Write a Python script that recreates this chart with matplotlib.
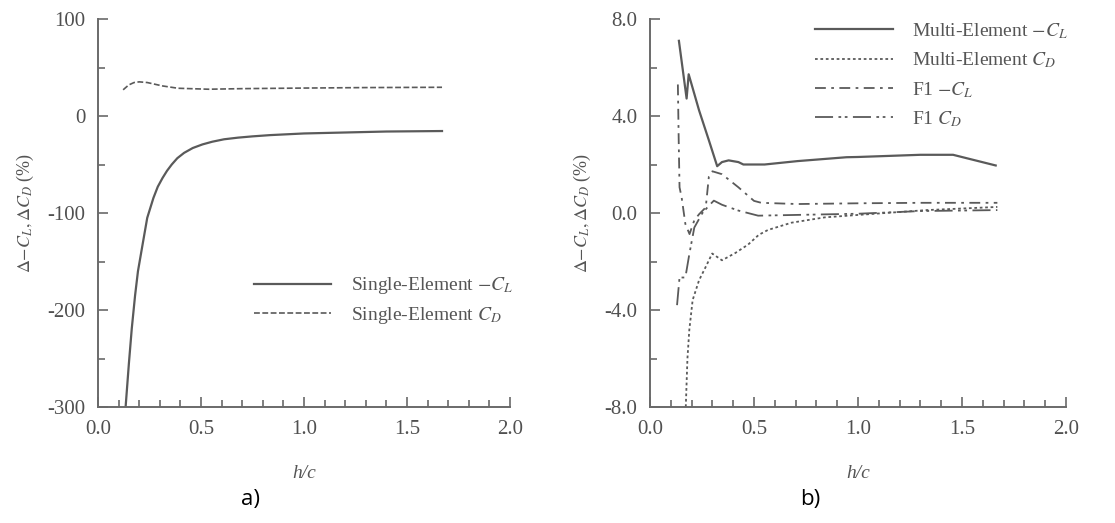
import matplotlib.pyplot as plt
from matplotlib.ticker import MultipleLocator, FormatStrFormatter

plt.rcParams['font.family'] = ['Liberation Serif', 'DejaVu Serif']
plt.rcParams['mathtext.fontset'] = 'stix'
plt.rcParams['axes.unicode_minus'] = False

GRAY = '#5a5a5a'

# panel a) single element
hc_a_cl = [0.134, 0.150, 0.164, 0.180, 0.194, 0.216, 0.239, 0.269, 0.29, 0.313, 0.335, 0.358,
           0.385, 0.418, 0.46, 0.507, 0.555, 0.612, 0.68, 0.75, 0.836, 1.0, 1.2, 1.4, 1.67]
a_cl = [-300, -255, -219, -185, -160, -133, -105, -84.5, -73, -64, -56.5, -50,
        -43.5, -38, -33, -29.3, -26.5, -24, -22.3, -21, -19.7, -18, -17, -16, -15.5]
hc_a_cd = [0.122, 0.149, 0.175, 0.2, 0.239, 0.313, 0.388, 0.537, 0.7, 1.0, 1.3, 1.67]
a_cd = [27, 32, 34.5, 35.2, 34.5, 31, 28.6, 27.6, 28.2, 28.8, 29.3, 29.6]

# panel b) multi element + F1
hc_m_cl = [0.139, 0.176, 0.186, 0.236, 0.283, 0.323, 0.346, 0.378, 0.425, 0.449,
           0.551, 0.709, 0.945, 1.0, 1.30, 1.457, 1.662]
m_cl = [7.10, 4.72, 5.72, 4.23, 3.0, 1.93, 2.10, 2.17, 2.10, 2.0,
        2.0, 2.14, 2.30, 2.31, 2.40, 2.40, 1.96]
hc_m_cd = [0.172, 0.180, 0.189, 0.205, 0.236, 0.268, 0.299, 0.346, 0.41, 0.472,
           0.523, 0.567, 0.68, 0.84, 1.0, 1.33, 1.67]
m_cd = [-8.0, -6.0, -4.82, -3.59, -2.77, -2.22, -1.67, -1.95, -1.65, -1.3,
        -0.9, -0.7, -0.4, -0.18, -0.08, 0.12, 0.25]
hc_f1_cl = [0.134, 0.138, 0.142, 0.152, 0.170, 0.190, 0.213, 0.236, 0.268, 0.283,
            0.300, 0.346, 0.425, 0.5, 0.535, 0.709, 1.0, 1.3, 1.67]
f1_cl = [5.3, 3.0, 1.06, 0.65, -0.45, -0.87, -0.3, -0.05, 0.23, 1.5,
         1.72, 1.6, 1.06, 0.5, 0.42, 0.37, 0.40, 0.42, 0.42]
hc_f1_cd = [0.130, 0.142, 0.170, 0.189, 0.213, 0.252, 0.283, 0.307, 0.346, 0.425,
            0.52, 0.7, 1.0, 1.3, 1.67]
f1_cd = [-3.8, -2.66, -2.66, -1.7, -0.6, 0.0, 0.3, 0.51, 0.34, 0.1,
         -0.11, -0.08, -0.03, 0.08, 0.12]

W, H = 1115, 523
fig = plt.figure(figsize=(W / 100, H / 100), dpi=100)
ax1 = fig.add_axes([98 / W, 1 - 407 / H, 412 / W, 388 / H])
ax2 = fig.add_axes([650 / W, 1 - 407 / H, 416 / W, 388 / H])

ylabel = r'$\Delta\mathrm{-}C_L,\Delta C_D$ (%)'

for ax in (ax1, ax2):
    for s in ('top', 'right'):
        ax.spines[s].set_visible(False)
    for s in ('left', 'bottom'):
        ax.spines[s].set_color('#6a6a6a')
        ax.spines[s].set_linewidth(1.4)
    ax.set_xlim(0, 2.0)
    ax.xaxis.set_major_locator(MultipleLocator(0.5))
    ax.xaxis.set_minor_locator(MultipleLocator(0.1))
    ax.xaxis.set_major_formatter(FormatStrFormatter('%.1f'))
    ax.tick_params(which='both', direction='in', color='#6a6a6a', width=1.2,
                   labelsize=15, labelcolor='#505050')
    ax.tick_params(which='major', length=7, pad=9)
    ax.tick_params(which='minor', length=5)
    ax.set_xlabel('h/c', style='italic', fontsize=14, color='#555555', labelpad=19)
    ax.set_ylabel(ylabel, fontsize=13, color='#555555', labelpad=8)

ax1.plot(hc_a_cl, a_cl, color=GRAY, lw=1.6, label=r'Single-Element $-C_L$')
ax1.plot(hc_a_cd, a_cd, color=GRAY, lw=1.2, ls=(0, (3.5, 1.5)), label=r'Single-Element $C_D$')
ax1.set_ylim(-300, 100)
ax1.yaxis.set_major_locator(MultipleLocator(100))
ax1.yaxis.set_minor_locator(MultipleLocator(50))
ax1.yaxis.set_major_formatter(FormatStrFormatter('%d'))
ax1.legend(loc='upper left', bbox_to_anchor=(0.354, 0.364), frameon=False,
           fontsize=14, handlelength=4.0, handletextpad=1.0, labelspacing=0.45,
           borderpad=0, labelcolor='#555555')

ax2.plot(hc_m_cl, m_cl, color=GRAY, lw=1.6, label=r'Multi-Element $-C_L$')
ax2.plot(hc_m_cd, m_cd, color=GRAY, lw=1.3, ls=(0, (1.5, 1.5)), label=r'Multi-Element $C_D$')
ax2.plot(hc_f1_cl, f1_cl, color=GRAY, lw=1.3, ls=(0, (6, 3, 1.5, 3)), label=r'F1 $-C_L$')
ax2.plot(hc_f1_cd, f1_cd, color=GRAY, lw=1.3, ls=(0, (10, 3, 1.5, 2, 1.5, 3)), label=r'F1 $C_D$')
ax2.set_ylim(-8, 8)
ax2.yaxis.set_major_locator(MultipleLocator(4))
ax2.yaxis.set_minor_locator(MultipleLocator(2))
ax2.yaxis.set_major_formatter(FormatStrFormatter('%.1f'))
ax2.legend(loc='upper left', bbox_to_anchor=(0.373, 1.02), frameon=False,
           fontsize=14, handlelength=4.0, handletextpad=1.0, labelspacing=0.5,
           borderpad=0, labelcolor='#555555')

fig.text(250 / W, 1 - 500 / H, 'a)', ha='center', va='center', fontsize=16,
         family=['Open Sans', 'DejaVu Sans'])
fig.text(810 / W, 1 - 500 / H, 'b)', ha='center', va='center', fontsize=16,
         family=['Open Sans', 'DejaVu Sans'])

fig.savefig('out.png', dpi=100)
